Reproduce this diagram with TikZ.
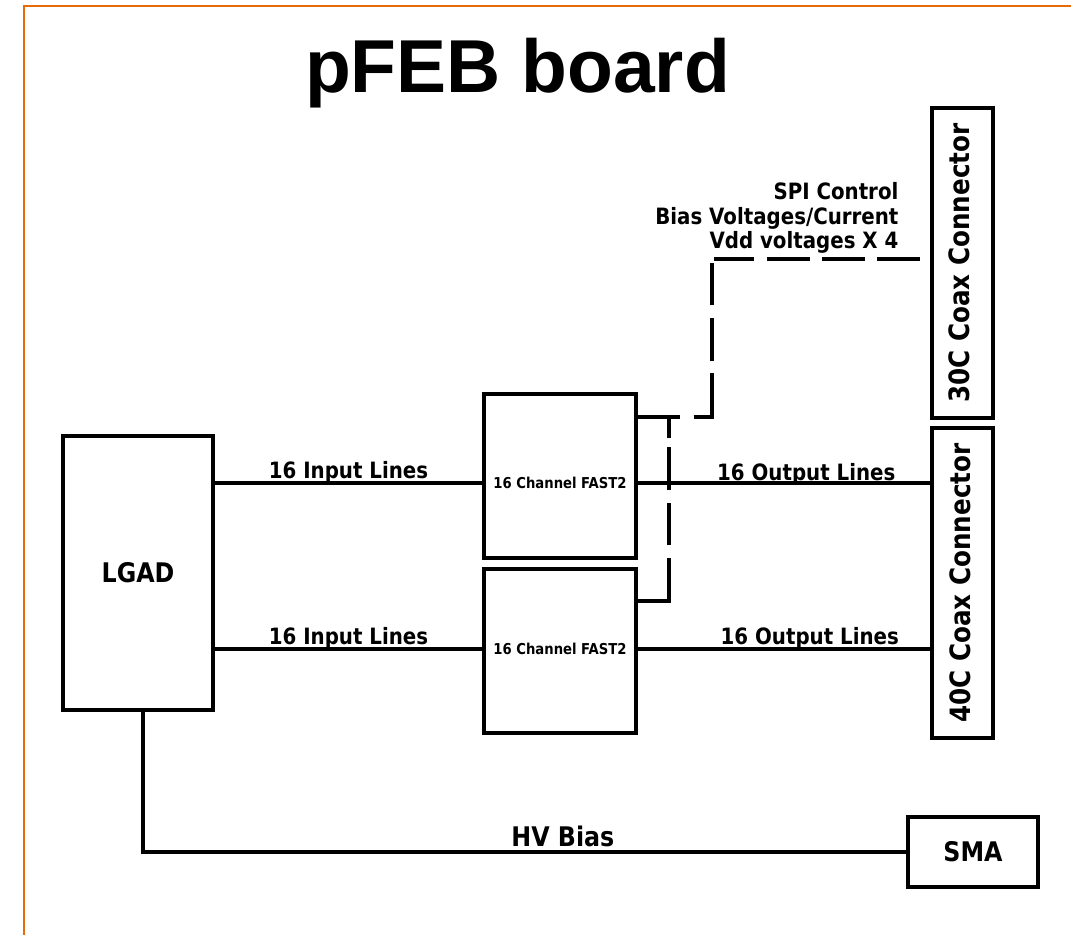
\documentclass[tikz,border=0pt]{standalone}
\usepackage{fontspec}
\newfontfamily\kfont{DejaVu Sans}[FakeStretch=0.88]
\newfontfamily\tfont{Liberation Sans}
\definecolor{porange}{RGB}{228,108,10}
\begin{document}
\begin{tikzpicture}[x=1pt,y=-1pt,line width=3.2pt,
  blk/.style={draw,rectangle,inner sep=0pt,line width=3.2pt,font=\kfont\bfseries\fontsize{27}{30}\selectfont},
  fastbox/.style={blk,minimum width=152pt,minimum height=164pt},
  fasttxt/.style={font=\kfont\bfseries\fontsize{15}{17}\selectfont,inner sep=0pt},
  conbox/.style={blk,minimum width=61pt,minimum height=310pt},
  contxt/.style={rotate=90,font=\kfont\bfseries\fontsize{28}{30}\selectfont,inner sep=0pt},
  lbl/.style={font=\kfont\bfseries\fontsize{22.5}{24.5}\selectfont,inner sep=0pt},
  bigl/.style={font=\kfont\bfseries\fontsize{27}{30}\selectfont,inner sep=0pt},
  wire/.style={draw,line width=3.2pt},
  frame/.style={draw=porange,line width=2.8pt}
]
\useasboundingbox (0,0) rectangle (1071,935);
% orange frame
\draw[frame] (24,935) -- (24,6) -- (1071,6);
% title
\node[font=\tfont\bfseries\fontsize{75}{80}\selectfont,anchor=base,inner sep=0pt] (title) at (517.5,92) {pFEB board};
% blocks
\node[blk,minimum width=150pt,minimum height=274pt] (lgad) at (138,573) {LGAD};
\node[fastbox,label={[name=f1t,fasttxt,yshift=-7pt]center:16 Channel FAST2}] (f1) at (560,476) {};
\node[fastbox,label={[name=f2t,fasttxt,yshift=2pt]center:16 Channel FAST2}] (f2) at (560,651) {};
\node[conbox,label={[name=c30t,contxt,yshift=3pt]center:30C Coax Connector}] (c30) at (962.5,263) {};
\node[conbox,label={[name=c40t,contxt,yshift=2pt]center:40C Coax Connector}] (c40) at (962.5,583) {};
\node[blk,minimum width=130pt,minimum height=70pt] (sma) at (973,852) {SMA};
% signal lines
\draw[wire] (lgad.east |- f1t) -- (f1.west |- f1t)
  node[midway,anchor=base,yshift=5pt,lbl] {16 Input Lines};
\draw[wire] (lgad.east |- f2t) -- (f2.west |- f2t)
  node[midway,anchor=base,yshift=5pt,lbl] {16 Input Lines};
\draw[wire] (f1.east |- f1t) -- (c40.west |- f1t)
  node[pos=0.576,anchor=base,yshift=3pt,lbl] {16 Output Lines};
\draw[wire] (f2.east |- f2t) -- (c40.west |- f2t)
  node[pos=0.588,anchor=base,yshift=5pt,lbl] {16 Output Lines};
% HV bias
\draw[wire] ([xshift=5pt]lgad.south) |- (sma.west)
  node[pos=0.775,anchor=base,yshift=6pt,bigl] {HV Bias};
% control (dashed)
\coordinate (spiA) at (712,417);
\coordinate (spiB) at (712,259);
\coordinate (tee) at (669,417);
\coordinate (lowctl) at (669,601);
\draw[wire,dash pattern=on 42pt off 14pt on 62pt off 12pt on 43pt off 13pt on 42pt off 6pt on 40pt off 13pt on 43pt off 12pt on 43pt off 12pt on 43pt off 14pt]
  (f1.east |- spiA) -- (spiA) -- (spiB) -- (c30.west |- spiB);
\draw[wire,dash pattern=on 74pt off 13pt on 42pt off 13pt on 43pt off 9pt on 23pt]
  (f2.east |- lowctl) -- (lowctl) -- (tee);
\node[lbl,align=right,anchor=north east] (spi) at (900,181) {SPI Control\\Bias Voltages/Current\\Vdd voltages X 4};
\end{tikzpicture}
\end{document}
